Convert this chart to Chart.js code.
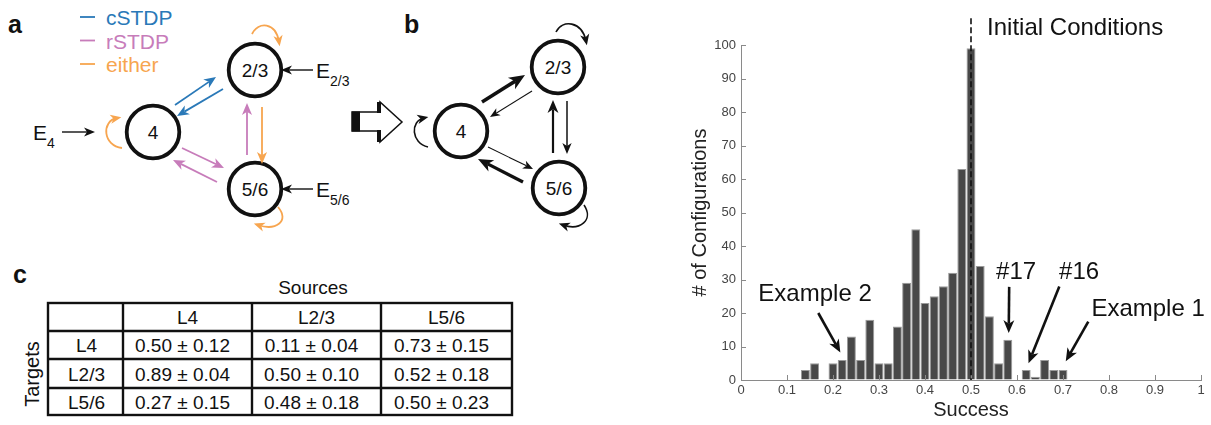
<!DOCTYPE html>
<html><head><meta charset="utf-8">
<script src="https://cdn.jsdelivr.net/npm/chart.js@4.4.1/dist/chart.umd.min.js"></script>
<style>
html,body{margin:0;padding:0;background:#fff;}
#wrap{position:relative;width:1211px;height:425px;overflow:hidden;}
#diag{position:absolute;left:0;top:0;}
#hist{position:absolute;left:640px;top:0;}
</style></head><body>
<div id="wrap"><svg id="diag" xmlns="http://www.w3.org/2000/svg" width="640" height="425"></svg><canvas id="hist" width="571" height="425"></canvas></div>
<script>
// ---------- data: histogram (panel d) ----------
const binCenters = [0.14,0.16,0.18,0.20,0.22,0.24,0.26,0.28,0.30,0.32,0.34,0.36,0.38,0.40,0.42,0.44,0.46,0.48,0.50,0.52,0.54,0.56,0.58,0.60,0.62,0.64,0.66,0.68,0.70];
const counts     = [3,5,0,5,6,13,6,18,5,5,16,29,45,23,25,28,32,63,99,34,19,5,12,0,3,1,6,3,3];
const initialConditionValue = 0.5;
const xTickValues = [0,0.1,0.2,0.3,0.4,0.5,0.6,0.7,0.8,0.9,1];
const yTickValues = [0,10,20,30,40,50,60,70,80,90,100];
const xTitle = 'Success';
const yTitle = '# of Configurations';
// annotation labels (data units)
const annotTexts = ['Initial Conditions','Example 2','#17','#16','Example 1'];
const annotTextPos = [[0.535,105.1],[0.161,25.7],[0.598,32.2],[0.735,32.2],[0.885,21.2]];
const annotAlign = ['left','center','center','center','center'];
const annotArrows = [null,[[0.168,20.0],[0.216,8.2]],[[0.583,27.8],[0.582,14.0]],[[0.692,27.9],[0.625,5.0]],[[0.755,17.4],[0.706,5.6]]];

// ---------- data: table (panel c) ----------
const sources = ['L4','L2/3','L5/6'];
const targets = ['L4','L2/3','L5/6'];
const tableMeans = [[0.50,0.11,0.73],[0.89,0.50,0.52],[0.27,0.48,0.50]];
const tableSD    = [[0.12,0.04,0.15],[0.04,0.10,0.18],[0.15,0.18,0.23]];

// ---------- data: network diagrams (panels a, b) ----------
const legendItems = ['cSTDP','rSTDP','either'];
const nodeLabels = ['2/3','4','5/6'];

const FONT = '"Liberation Sans", Arial, Helvetica, sans-serif';
const C_BLUE='#2a79b8', C_PINK='#c77cba', C_ORANGE='#f7a54f', C_BLACK='#111';

let s='';
function txt(x,y,str,size,o={}){
  s+=`<text x="${x}" y="${y}" font-family='${FONT}' font-size="${size}" fill="${o.fill||'#111'}" ${o.bold?'font-weight="bold"':''} text-anchor="${o.anchor||'start'}" ${o.transform?`transform="${o.transform}"`:''}>${str}</text>`;
}
function arrowSVG(x1,y1,x2,y2,col,w,L){
  const dx=x2-x1, dy=y2-y1, len=Math.hypot(dx,dy), ux=dx/len, uy=dy/len, px=-uy, py=ux;
  const hw=L*0.42, bx=x2-ux*L, by=y2-uy*L, nx=x2-ux*L*0.72, ny=y2-uy*L*0.72;
  s+=`<line x1="${x1}" y1="${y1}" x2="${nx}" y2="${ny}" stroke="${col}" stroke-width="${w}"/>`;
  s+=`<polygon points="${x2},${y2} ${bx+px*hw},${by+py*hw} ${nx},${ny} ${bx-px*hw},${by-py*hw}" fill="${col}"/>`;
}
function loopSVG(p0,p1,p2,p3,col,w,L){
  const dx=p3[0]-p2[0], dy=p3[1]-p2[1], len=Math.hypot(dx,dy), ux=dx/len, uy=dy/len, px=-uy, py=ux;
  const hw=L*0.42, tx=p3[0]+ux*L*0.4, ty=p3[1]+uy*L*0.4;
  const bx=tx-ux*L, by=ty-uy*L, nx=tx-ux*L*0.72, ny=ty-uy*L*0.72;
  s+=`<path d="M${p0[0]},${p0[1]} C${p1[0]},${p1[1]} ${p2[0]},${p2[1]} ${p3[0]},${p3[1]}" fill="none" stroke="${col}" stroke-width="${w}"/>`;
  s+=`<polygon points="${tx},${ty} ${bx+px*hw},${by+py*hw} ${nx},${ny} ${bx-px*hw},${by-py*hw}" fill="${col}"/>`;
}
function node(cx,cy,label){
  s+=`<circle cx="${cx}" cy="${cy}" r="26.3" fill="#fff" stroke="#111" stroke-width="3.8"/>`;
  txt(cx,cy+7,label,19,{anchor:'middle'});
}

// ---- panel a ----
txt(8,33,'a',25,{bold:true});
const legCols=[C_BLUE,C_PINK,C_ORANGE];
legendItems.forEach((t,i)=>{
  const by=25+i*23.5;
  s+=`<line x1="80" y1="${by-8}" x2="95" y2="${by-8}" stroke="${legCols[i]}" stroke-width="1.8"/>`;
  txt(106,by,t,21,{fill:legCols[i]});
});
node(255,70,nodeLabels[0]); node(153,132,nodeLabels[1]); node(255,189,nodeLabels[2]);
// external inputs
arrowSVG(313,70,281,70,C_BLACK,1.4,11);
txt(316,78,'E',21); txt(330,86,'2/3',14);
arrowSVG(313,189,281,189,C_BLACK,1.4,11);
txt(316,197,'E',21); txt(330,205,'5/6',14);
arrowSVG(62,132,95,132,C_BLACK,1.4,11);
txt(33,140,'E',21); txt(47,148,'4',14);
// plastic connections
arrowSVG(175,105,216,77,C_BLUE,1.8,12);
arrowSVG(223,89,177,116,C_BLUE,1.8,12);
arrowSVG(182,148,224,168,C_PINK,1.8,12);
arrowSVG(217,182,173,160,C_PINK,1.8,12);
arrowSVG(247,155,247,103,C_PINK,1.8,12);
arrowSVG(262,107,262,164,C_ORANGE,1.8,12);
loopSVG([252,34],[258,21],[276,22],[279,42],C_ORANGE,1.8,11);
loopSVG([122,148],[103,146],[101,121],[117,118],C_ORANGE,1.8,11);
loopSVG([278,207],[290,221],[276,231],[258,225],C_ORANGE,1.8,11);

// ---- panel b ----
txt(404,33,'b',25,{bold:true});
s+=`<polygon points="352,112 380,112 380,102 402,122 380,142 380,131 352,131" fill="#fff" stroke="#111" stroke-width="1.5"/>`;
s+=`<rect x="352" y="111.5" width="8" height="20" fill="#111"/>`;
s+=`<rect x="377" y="102" width="4" height="11" fill="#111"/><rect x="377" y="130" width="4" height="12" fill="#111"/>`;
node(558,67,nodeLabels[0]); node(461,131,nodeLabels[1]); node(559,188,nodeLabels[2]);
arrowSVG(482,102,525,75,C_BLACK,3.6,16);
arrowSVG(532,91,490,117,C_BLACK,1.1,10);
arrowSVG(488,147,533,169,C_BLACK,1.1,10);
arrowSVG(523,182,478,159,C_BLACK,3.2,15);
arrowSVG(553,153,553,100,C_BLACK,2.2,13);
arrowSVG(567,101,567,154,C_BLACK,1.5,11);
loopSVG([556,32],[562,19],[582,21],[586,41],C_BLACK,1.6,11);
loopSVG([428,147],[411,143],[410,121],[424,118],C_BLACK,1.6,11);
loopSVG([584,205],[594,220],[580,231],[563,225],C_BLACK,1.6,11);

// ---- panel c ----
txt(13,283,'c',25,{bold:true});
txt(313,294,'Sources',19,{anchor:'middle'});
txt(39,374,'Targets',20,{anchor:'middle',transform:'rotate(-90 39 374)'});
const colX=[48,123,252,381,512], rowY=[303,331,359,388,415];
s+=`<rect x="48" y="303" width="464" height="112" fill="none" stroke="#111" stroke-width="2.4"/>`;
colX.slice(1,4).forEach(x=>{s+=`<line x1="${x}" y1="303" x2="${x}" y2="415" stroke="#111" stroke-width="2.4"/>`;});
rowY.slice(1,4).forEach(y=>{s+=`<line x1="48" y1="${y}" x2="512" y2="${y}" stroke="#111" stroke-width="2.4"/>`;});
sources.forEach((t,j)=>txt((colX[j+1]+colX[j+2])/2,(rowY[0]+rowY[1])/2+7,t,19,{anchor:'middle'}));
targets.forEach((t,i)=>{
  const cy=(rowY[i+1]+rowY[i+2])/2+7;
  txt((colX[0]+colX[1])/2+1,cy,t,19,{anchor:'middle'});
  for(let j=0;j<3;j++){
    txt((colX[j+1]+colX[j+2])/2-5,cy,tableMeans[i][j].toFixed(2)+' \u00b1 '+tableSD[i][j].toFixed(2),19,{anchor:'middle'});
  }
});
// ---- panel d letter ----
txt(645,35,'d',25,{bold:true});
document.getElementById('diag').innerHTML=s;

// ---------- Chart.js histogram ----------
function canvasArrow(ctx,x1,y1,x2,y2,w,L){
  const dx=x2-x1, dy=y2-y1, len=Math.hypot(dx,dy), ux=dx/len, uy=dy/len, px=-uy, py=ux;
  const hw=L*0.42, bx=x2-ux*L, by=y2-uy*L, nx=x2-ux*L*0.72, ny=y2-uy*L*0.72;
  ctx.lineWidth=w; ctx.beginPath(); ctx.moveTo(x1,y1); ctx.lineTo(nx,ny); ctx.stroke();
  ctx.beginPath(); ctx.moveTo(x2,y2); ctx.lineTo(bx+px*hw,by+py*hw); ctx.lineTo(nx,ny); ctx.lineTo(bx-px*hw,by-py*hw); ctx.closePath(); ctx.fill();
}
const annotPlugin = {
  id:'annot',
  afterDraw(chart){
    const {ctx, scales:{x,y}, chartArea:ca} = chart;
    ctx.save();
    ctx.setLineDash([]);
    ctx.strokeStyle='#8a8a8a'; ctx.lineWidth=1;
    xTickValues.forEach(v=>{const p=Math.round(x.getPixelForValue(v))+0.5; ctx.beginPath(); ctx.moveTo(p,ca.bottom); ctx.lineTo(p,ca.bottom-5); ctx.stroke();});
    yTickValues.forEach(v=>{const p=Math.round(y.getPixelForValue(v))+0.5; ctx.beginPath(); ctx.moveTo(ca.left,p); ctx.lineTo(ca.left+5,p); ctx.stroke();});
    // dashed initial-condition line
    const px=x.getPixelForValue(initialConditionValue);
    ctx.strokeStyle='#111'; ctx.lineWidth=1.6; ctx.setLineDash([6,3]);
    ctx.beginPath(); ctx.moveTo(px,y.getPixelForValue(108)); ctx.lineTo(px,ca.bottom); ctx.stroke();
    ctx.setLineDash([]);
    // labels + arrows
    ctx.fillStyle='#111'; ctx.strokeStyle='#111';
    ctx.font='24px '+FONT; ctx.textBaseline='middle';
    annotTexts.forEach((t,i)=>{
      ctx.textAlign=annotAlign[i];
      ctx.fillText(t,x.getPixelForValue(annotTextPos[i][0]),y.getPixelForValue(annotTextPos[i][1]));
      const a=annotArrows[i];
      if(a){canvasArrow(ctx,x.getPixelForValue(a[0][0]),y.getPixelForValue(a[0][1]),x.getPixelForValue(a[1][0]),y.getPixelForValue(a[1][1]),2.6,13);}
    });
    ctx.restore();
  }
};
new Chart(document.getElementById('hist'),{
  type:'bar',
  data:{datasets:[{
    data:binCenters.map((c,i)=>({x:c,y:counts[i]})),
    backgroundColor:'#484848', borderColor:'#9a9a9a', borderWidth:1,
    barPercentage:0.97, categoryPercentage:1
  }]},
  options:{
    responsive:false, animation:false, devicePixelRatio:1,
    layout:{padding:{left:0,right:10,top:45,bottom:0}},
    plugins:{legend:{display:false},tooltip:{enabled:false}},
    scales:{
      x:{type:'linear',min:0,max:1,offset:false,
        afterBuildTicks:sc=>{sc.ticks=xTickValues.map(v=>({value:v}));},
        afterFit:sc=>{sc.height=45;},
        grid:{display:true,drawOnChartArea:false,drawTicks:false},
        border:{display:true,color:'#8a8a8a',width:1},
        ticks:{padding:3,color:'#444',font:{family:FONT,size:13},maxRotation:0,autoSkip:false,callback:v=>String(+v.toFixed(1))},
        title:{display:true,text:xTitle,color:'#222',font:{family:FONT,size:20},padding:{top:0,bottom:3}}
      },
      y:{min:0,max:100,
        afterBuildTicks:sc=>{sc.ticks=yTickValues.map(v=>({value:v}));},
        afterFit:sc=>{sc.width=101;},
        grid:{display:true,drawOnChartArea:false,drawTicks:false},
        border:{display:true,color:'#8a8a8a',width:1},
        ticks:{padding:5,color:'#444',font:{family:FONT,size:13},autoSkip:false},
        title:{display:true,text:yTitle,color:'#222',font:{family:FONT,size:20},padding:{top:48,bottom:0}}
      }
    }
  },
  plugins:[annotPlugin]
});
</script>
</body></html>
